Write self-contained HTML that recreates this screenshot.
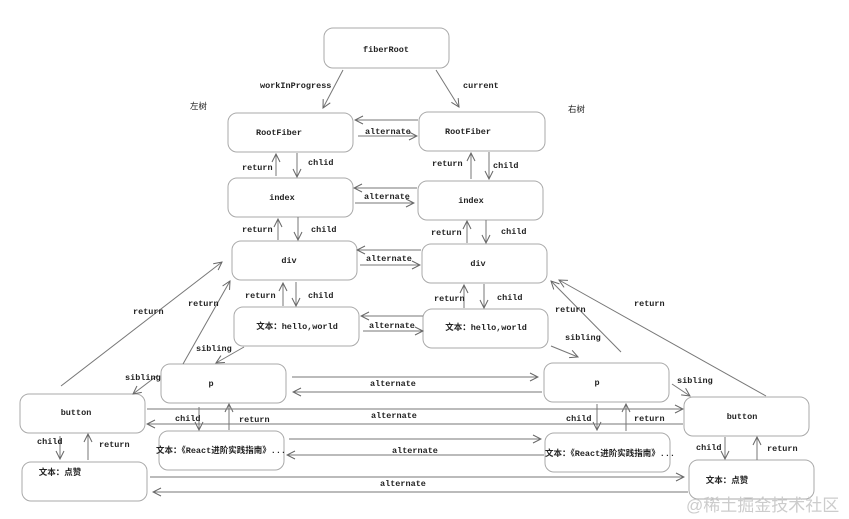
<!DOCTYPE html>
<html><head><meta charset="utf-8"><style>
html,body{margin:0;padding:0;background:#fff;}
svg{display:block;}
text{font-family:"Liberation Mono","Noto Sans CJK SC",monospace;font-size:8.5px;font-weight:bold;fill:#222;}
</style></head><body>
<svg width="849" height="519" viewBox="0 0 849 519" xmlns="http://www.w3.org/2000/svg">
<defs>
<marker id="a" markerWidth="10" markerHeight="10" refX="9" refY="5" orient="auto" markerUnits="userSpaceOnUse">
<path d="M1,1 L9,5 L1,9" fill="none" stroke="#666" stroke-width="1"/></marker>
</defs>
<g fill="#fff" stroke="#aaa" stroke-width="1">
<rect x="324" y="28" width="125" height="40" rx="9"/>
<rect x="228" y="113" width="125" height="39" rx="9"/>
<rect x="419" y="112" width="126" height="39" rx="9"/>
<rect x="228" y="178" width="125" height="39" rx="9"/>
<rect x="418" y="181" width="125" height="39" rx="9"/>
<rect x="232" y="241" width="125" height="39" rx="9"/>
<rect x="422" y="244" width="125" height="39" rx="9"/>
<rect x="234" y="307" width="125" height="39" rx="9"/>
<rect x="423" y="309" width="125" height="39" rx="9"/>
<rect x="161" y="364" width="125" height="39" rx="9"/>
<rect x="544" y="363" width="125" height="39" rx="9"/>
<rect x="20" y="394" width="125" height="39" rx="9"/>
<rect x="684" y="397" width="125" height="39" rx="9"/>
<rect x="159" y="431" width="125" height="39" rx="9"/>
<rect x="545" y="433" width="125" height="39" rx="9"/>
<rect x="22" y="462" width="125" height="39" rx="9"/>
<rect x="689" y="460" width="125" height="39" rx="9"/>
</g>
<g stroke="#777" stroke-width="1" fill="none" marker-end="url(#a)">
<line x1="343" y1="70" x2="323" y2="108"/>
<line x1="436" y1="70" x2="459" y2="107"/>
<line x1="418" y1="120" x2="355" y2="120"/>
<line x1="358" y1="136" x2="417" y2="136"/>
<line x1="417" y1="188" x2="354" y2="188"/>
<line x1="355" y1="203" x2="414" y2="203"/>
<line x1="421" y1="250" x2="357" y2="250"/>
<line x1="360" y1="265" x2="420" y2="265"/>
<line x1="423" y1="316" x2="361" y2="316"/>
<line x1="363" y1="331" x2="423" y2="331"/>
<!-- verticals left -->
<line x1="276" y1="176" x2="276" y2="154"/>
<line x1="297" y1="153" x2="297" y2="177"/>
<line x1="278" y1="240" x2="278" y2="219"/>
<line x1="298" y1="217" x2="298" y2="240"/>
<line x1="283" y1="306" x2="283" y2="283"/>
<line x1="296" y1="282" x2="296" y2="306"/>
<!-- verticals right -->
<line x1="471" y1="179" x2="471" y2="153"/>
<line x1="489" y1="152" x2="489" y2="179"/>
<line x1="467" y1="243" x2="467" y2="221"/>
<line x1="486" y1="220" x2="486" y2="243"/>
<line x1="464" y1="308" x2="464" y2="285"/>
<line x1="484" y1="284" x2="484" y2="308"/>
<!-- big returns -->
<line x1="61" y1="386" x2="222" y2="262"/>
<line x1="183" y1="364" x2="230" y2="281"/>
<line x1="621" y1="352" x2="551" y2="281"/>
<line x1="766" y1="396" x2="559" y2="280"/>
<!-- siblings -->
<line x1="244" y1="347" x2="216" y2="363"/>
<line x1="158" y1="375" x2="133" y2="394"/>
<line x1="551" y1="346" x2="578" y2="357"/>
<line x1="672" y1="384" x2="690" y2="396"/>
<!-- lower verticals -->
<line x1="199" y1="407" x2="199" y2="430"/>
<line x1="229" y1="430" x2="229" y2="404"/>
<line x1="60" y1="436" x2="60" y2="459"/>
<line x1="88" y1="460" x2="88" y2="434"/>
<line x1="597" y1="404" x2="597" y2="430"/>
<line x1="626" y1="431" x2="626" y2="404"/>
<line x1="725" y1="437" x2="725" y2="459"/>
<line x1="757" y1="460" x2="757" y2="437"/>
<!-- long alternates -->
<line x1="292" y1="377" x2="538" y2="377"/>
<line x1="542" y1="392" x2="293" y2="392"/>
<line x1="147" y1="409" x2="683" y2="409"/>
<line x1="683" y1="424" x2="147" y2="424"/>
<line x1="289" y1="439" x2="541" y2="439"/>
<line x1="544" y1="455" x2="287" y2="455"/>
<line x1="150" y1="477" x2="684" y2="477"/>
<line x1="688" y1="492" x2="153" y2="492"/>
</g>
<g text-anchor="middle">
<text x="386" y="52">fiberRoot</text>
<text x="279" y="135">RootFiber</text>
<text x="468" y="134">RootFiber</text>
<text x="282" y="200">index</text>
<text x="471" y="203">index</text>
<text x="289" y="263">div</text>
<text x="478" y="266">div</text>
<text x="297" y="329">文本：hello,world</text>
<text x="486" y="330">文本：hello,world</text>
<text x="211" y="386">p</text>
<text x="597" y="385">p</text>
<text x="76" y="415">button</text>
<text x="742" y="419">button</text>
<text x="221" y="453">文本：《React进阶实践指南》...</text>
<text x="610" y="456">文本：《React进阶实践指南》...</text>
<text x="60" y="475">文本：点赞</text>
<text x="727" y="483">文本：点赞</text>
</g>
<g>
<text x="260" y="88">workInProgress</text>
<text x="463" y="88">current</text>
<text x="190" y="109" style="font-weight:normal">左树</text>
<text x="568" y="112" style="font-weight:normal">右树</text>
<text x="365" y="134">alternate</text>
<text x="364" y="199">alternate</text>
<text x="366" y="261">alternate</text>
<text x="369" y="328">alternate</text>
<text x="242" y="170">return</text>
<text x="308" y="165">chlid</text>
<text x="242" y="232">return</text>
<text x="311" y="232">child</text>
<text x="245" y="298">return</text>
<text x="308" y="298">child</text>
<text x="432" y="166">return</text>
<text x="493" y="168">child</text>
<text x="431" y="235">return</text>
<text x="501" y="234">child</text>
<text x="434" y="301">return</text>
<text x="497" y="300">child</text>
<text x="133" y="314">return</text>
<text x="188" y="306">return</text>
<text x="555" y="312">return</text>
<text x="634" y="306">return</text>
<text x="196" y="351">sibling</text>
<text x="125" y="380">sibling</text>
<text x="565" y="340">sibling</text>
<text x="677" y="383">sibling</text>
<text x="370" y="386">alternate</text>
<text x="371" y="418">alternate</text>
<text x="392" y="453">alternate</text>
<text x="380" y="486">alternate</text>
<text x="175" y="421">child</text>
<text x="239" y="422">return</text>
<text x="37" y="444">child</text>
<text x="99" y="447">return</text>
<text x="566" y="421">child</text>
<text x="634" y="421">return</text>
<text x="696" y="450">child</text>
<text x="767" y="451">return</text>
</g>
<text x="686" y="511" style="font-size:17px;font-weight:normal;fill:#ccc;font-family:'Liberation Sans','Noto Sans CJK SC',sans-serif">@稀土掘金技术社区</text>
</svg>
</body></html>
